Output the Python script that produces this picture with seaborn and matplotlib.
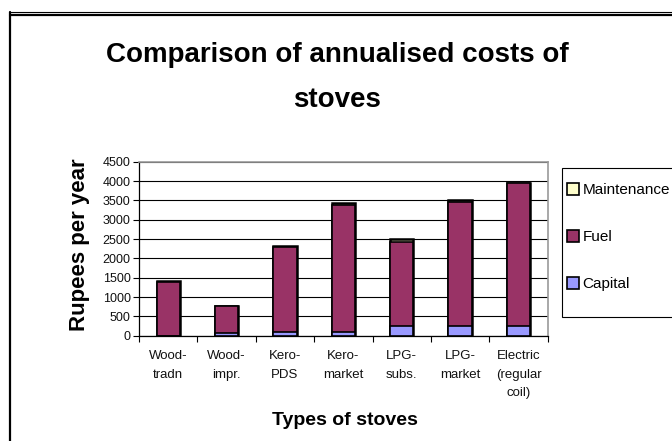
import numpy as np
import pandas as pd
import matplotlib
matplotlib.use("Agg")
import matplotlib.pyplot as plt
from matplotlib.patches import Patch, Rectangle
from matplotlib.lines import Line2D
import seaborn as sns

stoves = ["Wood-\ntradn", "Wood-\nimpr.", "Kero-\nPDS", "Kero-\nmarket",
          "LPG-\nsubs.", "LPG-\nmarket", "Electric\n(regular\ncoil)"]
capital = [0, 80, 100, 100, 260, 260, 260]
fuel = [1400, 690, 2200, 3290, 2170, 3200, 3680]
maintenance = [10, 0, 30, 30, 60, 50, 0]

sns.set_theme(style="white")
plt.rcParams['font.family'] = ['Liberation Sans', 'DejaVu Sans']
plt.rcParams['text.color'] = 'black'
plt.rcParams['axes.labelcolor'] = 'black'

df = pd.DataFrame({"stove": stoves, "Capital": capital, "Fuel": fuel, "Maintenance": maintenance})
df["cap_fuel"] = df["Capital"] + df["Fuel"]
df["total"] = df["cap_fuel"] + df["Maintenance"]

fig = plt.figure(figsize=(6.72, 4.41), dpi=100)
ax = fig.add_axes([139/672, 1-335.7/441, (547.7-139)/672, (335.7-161.7)/441])

col_m, col_f, col_c = "#FFFFCC", "#993366", "#9999FF"
kw = dict(width=0.4, edgecolor="black", saturation=1, ax=ax, zorder=3)
sns.barplot(data=df, x="stove", y="total", color=col_m, linewidth=1.8, **kw)
sns.barplot(data=df, x="stove", y="cap_fuel", color=col_f, linewidth=1.2, **kw)
sns.barplot(data=df, x="stove", y="Capital", color=col_c, linewidth=1.2, **kw)

ax.set_ylim(0, 4500)
ax.set_xlim(-0.5, 6.5)
ax.set_yticks(np.arange(0, 4501, 500))
ax.yaxis.grid(True, color="black", linewidth=0.8)
ax.set_axisbelow(True)
for s in ["left", "bottom"]:
    ax.spines[s].set_color("black")
    ax.spines[s].set_linewidth(0.9)
for s in ["top", "right"]:
    ax.spines[s].set_color("#999999")
    ax.spines[s].set_linewidth(1.2)

ax.tick_params(axis="y", which="major", direction="out", length=4, width=0.8,
               color="black", left=True, labelsize=9, labelcolor="#111111", pad=2)
ax.tick_params(axis="x", which="major", length=0, labelsize=9.5, labelcolor="#111111", pad=10.5)
ax.set_xticks(np.arange(-0.5, 7, 1), minor=True)
ax.tick_params(axis="x", which="minor", direction="out", length=4, width=0.8,
               color="black", bottom=True)
for lab in ax.get_xticklabels():
    lab.set_linespacing(1.7)
    lab.set_verticalalignment("top")

ax.set_xlabel("Types of stoves", fontsize=14, fontweight="bold", color="black")
ax.xaxis.set_label_coords(0.503, -0.4845)
ax.xaxis.label.set_va("center")
ax.set_ylabel("Rupees per year", fontsize=16, fontweight="bold", color="black")
ax.yaxis.set_label_coords(-0.145, 0.521)
ax.yaxis.label.set_va("center")

fig.text(337/672, 1-55/441, "Comparison of annualised costs of", ha="center", va="center",
         fontsize=20, fontweight="bold")
fig.text(337/672, 1-100/441, "stoves", ha="center", va="center",
         fontsize=20, fontweight="bold")

# legend box, runs off the right edge like the original
fig.add_artist(Rectangle((562/672, 1-317/441), 0.3, (317-168)/441, transform=fig.transFigure,
                         facecolor="white", edgecolor="black", linewidth=0.8, zorder=1))
handles = [Patch(facecolor=col_m, edgecolor="black", linewidth=1.2, label="Maintenance"),
           Patch(facecolor=col_f, edgecolor="black", linewidth=1.2, label="Fuel"),
           Patch(facecolor=col_c, edgecolor="black", linewidth=1.2, label="Capital")]
leg = fig.legend(handles=handles, loc="upper left", bbox_to_anchor=(567/672, 1-183/441),
                 bbox_transform=fig.transFigure, fontsize=11, frameon=False,
                 borderaxespad=0, borderpad=0, labelspacing=2.15,
                 handlelength=0.8, handleheight=0.8, handletextpad=0.2)
leg.set_zorder(2)

# outer frame
fig.add_artist(Line2D([10/672, 1], [1-12/441, 1-12/441], color="black", linewidth=0.8,
                      transform=fig.transFigure))
fig.add_artist(Line2D([10/672, 1], [1-14.5/441, 1-14.5/441], color="black", linewidth=1.6,
                      transform=fig.transFigure))
fig.add_artist(Line2D([10/672, 10/672], [0, 1-12/441], color="black", linewidth=1.6,
                      transform=fig.transFigure))

fig.savefig("out.png", dpi=100)
